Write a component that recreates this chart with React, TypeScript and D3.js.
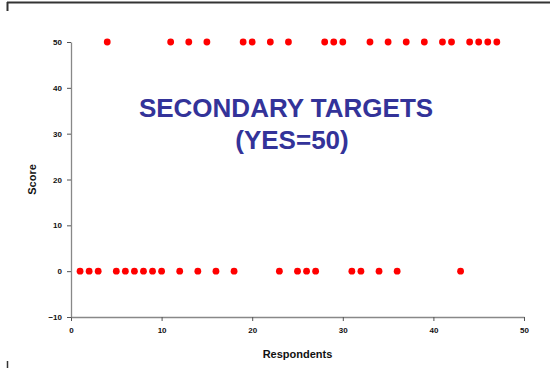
import React, { useEffect, useRef } from 'react';
import * as d3 from 'd3';

// respondents answering "yes" (score 50) and "no" (score 0)
const yesRespondents = [4, 11, 13, 15, 19, 20, 22, 24, 28, 29, 30, 33, 35, 37, 39, 41, 42, 44, 45, 46, 47];
const noRespondents = [1, 2, 3, 5, 6, 7, 8, 9, 10, 12, 14, 16, 18, 23, 25, 26, 27, 31, 32, 34, 36, 43];
const yesScore = 50;
const noScore = 0;

const xTicks = [0, 10, 20, 30, 40, 50];
const yTicks = [-10, 0, 10, 20, 30, 40, 50];

const titleLines = ['SECONDARY TARGETS', '(YES=50)'];

const App: React.FC = () => {
  const svgRef = useRef<SVGSVGElement>(null);

  useEffect(() => {
    if (!svgRef.current) return;
    const width = 550;
    const height = 368;
    const margin = { top: 42, right: 26, bottom: 51, left: 71 };

    const svg = d3.select(svgRef.current);
    svg.selectAll('*').remove();

    const font = 'Arial, "Liberation Sans", sans-serif';

    // slide frame
    svg.append('line')
      .attr('x1', 7).attr('x2', width).attr('y1', 2.5).attr('y2', 2.5)
      .attr('stroke', '#333').attr('stroke-width', 2);
    svg.append('line')
      .attr('x1', 7.5).attr('x2', 7.5).attr('y1', 2).attr('y2', 11)
      .attr('stroke', '#333').attr('stroke-width', 2);
    svg.append('line')
      .attr('x1', 7.5).attr('x2', 7.5).attr('y1', 361).attr('y2', height)
      .attr('stroke', '#333').attr('stroke-width', 1.5);

    const x = d3.scaleLinear().domain([0, 50]).range([margin.left, width - margin.right]);
    const y = d3.scaleLinear().domain([-10, 50]).range([height - margin.bottom, margin.top]);

    const xAxis = svg.append('g')
      .attr('transform', `translate(0,${height - margin.bottom})`)
      .call(d3.axisBottom(x).tickValues(xTicks).tickSizeInner(4).tickSizeOuter(0).tickPadding(6));
    const yAxis = svg.append('g')
      .attr('transform', `translate(${margin.left},0)`)
      .call(d3.axisLeft(y).tickValues(yTicks).tickSizeInner(4).tickSizeOuter(0).tickPadding(5));

    [xAxis, yAxis].forEach(g => {
      g.select('.domain').attr('stroke', '#888').attr('stroke-width', 1.3);
      g.selectAll('.tick line').attr('stroke', '#555');
      g.selectAll('.tick text')
        .attr('fill', '#111')
        .attr('font-family', font)
        .attr('font-weight', 'bold')
        .attr('font-size', 8);
    });

    const allPoints = [
      ...yesRespondents.map(r => [r, yesScore]),
      ...noRespondents.map(r => [r, noScore]),
    ];

    svg.append('g')
      .selectAll('circle')
      .data(allPoints)
      .enter().append('circle')
      .attr('cx', d => x(d[0]))
      .attr('cy', d => y(d[1]))
      .attr('r', 3.4)
      .attr('fill', '#ff0000');

    // title, two lines, slightly offset centres as in the slide
    const titleX = [286, 292];
    svg.append('g')
      .selectAll('text')
      .data(titleLines)
      .enter().append('text')
      .attr('x', (d, i) => titleX[i])
      .attr('y', (d, i) => 117 + i * 32)
      .attr('text-anchor', 'middle')
      .attr('font-family', font)
      .attr('font-weight', 'bold')
      .attr('font-size', 26)
      .attr('fill', '#333399')
      .text(d => d);

    svg.append('text')
      .attr('x', (margin.left + width - margin.right) / 2)
      .attr('y', 358)
      .attr('text-anchor', 'middle')
      .attr('font-family', font)
      .attr('font-weight', 'bold')
      .attr('font-size', 11)
      .attr('fill', '#111')
      .text('Respondents');

    svg.append('text')
      .attr('transform', `translate(36,${(margin.top + height - margin.bottom) / 2}) rotate(-90)`)
      .attr('text-anchor', 'middle')
      .attr('font-family', font)
      .attr('font-weight', 'bold')
      .attr('font-size', 11)
      .attr('fill', '#111')
      .text('Score');
  }, []);

  return (
    <svg
      ref={svgRef}
      width={550}
      height={368}
      style={{ position: 'absolute', left: 0, top: 0, background: '#fff' }}
    />
  );
};

export default App;
